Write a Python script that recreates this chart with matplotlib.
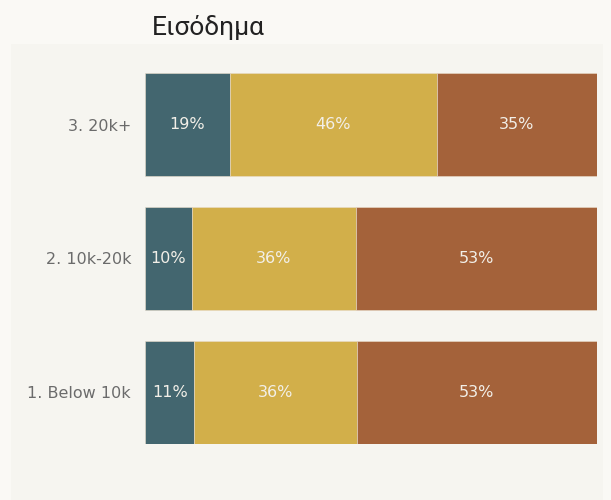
import numpy as np
import matplotlib.pyplot as plt

# income groups, bottom to top
categories = ['1. Below 10k', '2. 10k-20k', '3. 20k+']
low = [10.9, 10.4, 18.7]
mid = [35.9, 36.2, 45.9]
high = [53.2, 53.4, 35.4]
colors = ['#43666f', '#d2af4a', '#a4623a']

fig = plt.figure(figsize=(6.11, 5), dpi=100)
fig.patch.set_facecolor('#faf9f5')

# light panel behind the plot
bg = fig.add_axes([11/611, 0, 592/611, 456/500])
bg.set_facecolor('#f6f5f0')
bg.set_xticks([])
bg.set_yticks([])
for s in bg.spines.values():
    s.set_visible(False)

ax = fig.add_axes([145/611, 56/500, 452/611, 371/500])
ax.set_facecolor('none')

y = np.arange(len(categories))
h = 0.769
left = np.zeros(len(categories))
for vals, c in zip([low, mid, high], colors):
    vals = np.array(vals)
    ax.barh(y, vals, left=left, height=h, color=c, edgecolor='#e9dccb', linewidth=0.4)
    for yi, l, v in zip(y, left, vals):
        ax.text(l + v / 2, yi, f'{round(v)}%', ha='center', va='center',
                color='#f2efe8', fontsize=11.5, family='DejaVu Sans')
    left += vals

ax.set_xlim(0, 100)
ax.set_ylim(-h / 2, 2 + h / 2)
ax.set_yticks(y)
ax.set_yticklabels(categories, fontsize=11.5, color='#6b6b6b')
ax.set_xticks([])
ax.tick_params(axis='y', length=0, pad=10)
for s in ax.spines.values():
    s.set_visible(False)

fig.text(208/611, 1 - 27/500, 'Εισόδημα', ha='center', va='center',
         fontsize=19, family='Roboto', color='#222222')

fig.savefig('out.png', dpi=100, facecolor=fig.get_facecolor())
